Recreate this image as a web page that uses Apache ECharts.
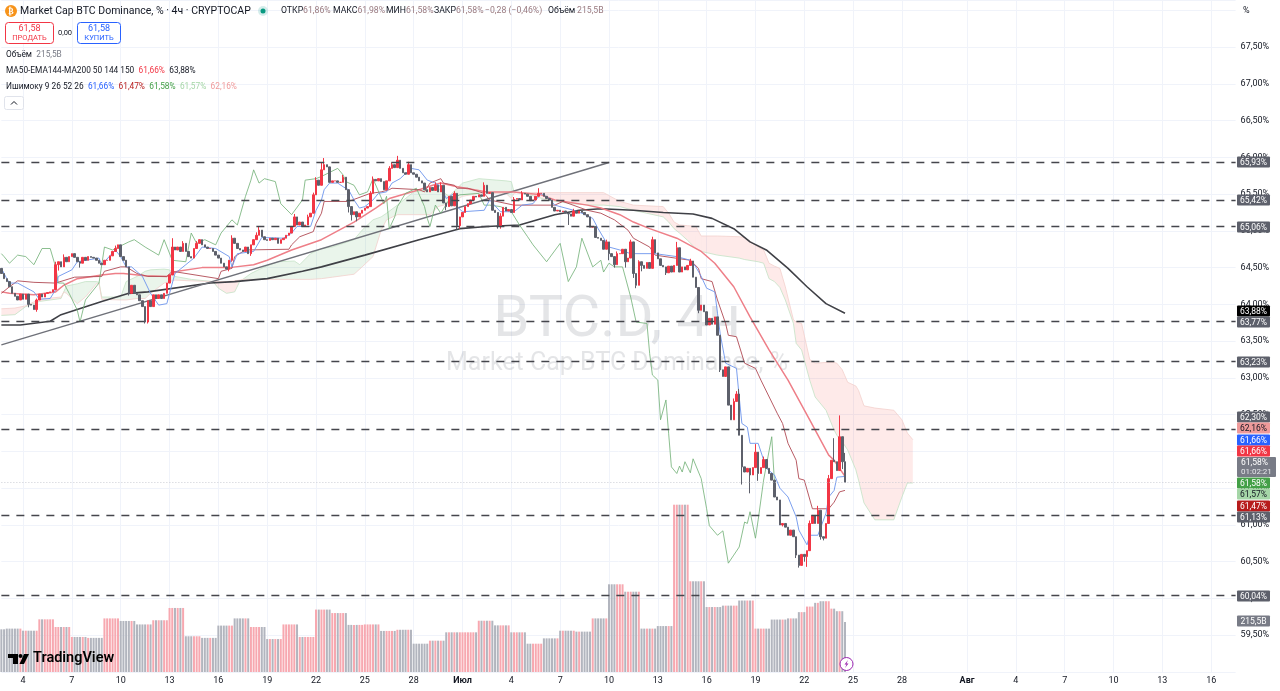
<!DOCTYPE html>
<html>
<head>
<meta charset="utf-8">
<script src="https://cdn.jsdelivr.net/npm/echarts@6/dist/echarts.min.js"></script>
<style>html,body{margin:0;padding:0;background:#fff}#c{width:1280px;height:691px}</style>
</head>
<body>
<div id="c"></div>
<script>
// ---------- DATA ----------
const closes = [64.42,64.35,64.31,64.24,64.15,64.11,64.06,64.14,64.07,64.14,64.00,63.99,63.93,64.06,64.14,64.10,64.15,64.16,64.17,64.20,
64.54,64.58,64.51,64.64,64.58,64.65,64.69,64.64,64.58,64.56,64.64,64.60,64.65,64.64,64.63,64.60,64.56,64.54,64.60,64.60,
64.66,64.72,64.76,64.81,64.65,64.60,64.51,64.15,64.26,64.15,64.13,64.05,63.97,63.76,64.05,63.97,64.13,64.08,64.13,64.08,
64.15,64.29,64.40,64.78,64.74,64.78,64.72,64.83,64.72,64.65,64.63,64.76,64.83,64.88,64.81,64.78,64.76,64.76,64.72,64.67,
64.63,64.56,64.51,64.48,64.60,64.90,64.83,64.76,64.74,64.72,64.78,64.69,64.81,64.88,64.94,65.01,64.92,64.88,64.87,64.90,
64.88,64.90,64.83,64.88,64.90,64.94,64.97,65.06,65.19,65.08,65.12,65.06,65.08,65.19,65.24,65.49,65.69,65.62,65.83,65.90,
65.87,65.66,65.68,65.68,65.66,65.66,65.73,65.56,65.33,65.22,65.26,65.19,65.24,65.28,65.31,65.33,65.51,65.70,65.68,65.71,
65.67,65.56,65.68,65.85,65.90,65.86,65.96,65.85,65.79,65.77,65.90,65.79,65.77,65.73,65.68,65.65,65.56,65.53,65.59,65.55,
65.62,65.53,65.62,65.38,65.33,65.47,65.34,65.51,65.07,65.19,65.25,65.33,65.37,65.42,65.47,65.46,65.49,65.47,65.62,65.51,
65.52,65.28,65.25,65.06,65.20,65.32,65.27,65.29,65.25,65.43,65.44,65.42,65.51,65.50,65.47,65.41,65.42,65.47,65.51,65.51,
65.47,65.44,65.42,65.32,65.27,65.28,65.26,65.27,65.24,65.23,65.20,65.27,65.24,65.27,65.25,65.22,65.19,65.05,65.06,64.91,
64.90,64.87,64.75,64.85,64.69,64.65,64.54,64.69,64.69,64.75,64.58,64.63,64.85,64.42,64.26,64.58,64.53,64.49,64.57,64.49,
64.88,64.70,64.62,64.53,64.51,64.43,64.52,64.44,64.53,64.77,64.44,64.51,64.47,64.53,64.59,64.37,64.23,63.92,63.99,63.90,
63.72,63.81,63.73,63.83,63.58,63.11,63.02,63.15,62.63,62.43,62.68,62.78,62.22,61.79,61.72,61.77,61.68,61.78,61.99,61.70,
61.78,61.89,61.77,61.70,61.61,61.38,61.34,61.00,61.02,60.97,60.86,60.93,60.84,60.59,60.45,60.60,60.57,60.65,61.02,61.13,
61.02,61.20,60.84,60.82,61.02,61.63,61.88,61.86,61.74,62.20,61.86,61.58];
const firstOpen = 64.49;
const wickHighs = {13:64.08,20:64.58,23:64.68,42:64.80,63:64.90,67:64.86,72:64.86,85:64.94,94:64.98,95:65.06,108:65.23,113:65.22,115:65.52,116:65.73,118:65.93,119:65.99,126:65.76,136:65.54,137:65.74,143:65.88,144:65.93,146:66.02,150:65.94,160:65.66,162:65.66,167:65.54,178:65.66,184:65.24,189:65.46,192:65.54,198:65.58,211:65.30,223:64.88,227:64.72,232:64.88,235:64.60,240:64.92,249:64.85,254:64.62,270:62.72,271:62.82,272:62.85,278:62.10,281:61.93,298:61.06,301:61.26,305:61.68,307:62.18,309:62.49,311:61.98};
const wickLows = {10:63.96,13:63.90,21:64.46,29:64.50,47:64.12,53:63.74,54:63.74,84:64.45,85:64.58,92:64.66,107:64.98,128:65.25,129:65.14,131:65.13,164:65.28,168:65.02,169:65.03,183:65.03,184:65.03,209:65.08,224:64.60,226:64.50,230:64.50,233:64.36,234:64.22,236:64.45,245:64.40,257:63.88,265:63.08,273:61.55,276:61.43,279:61.60,288:60.98,293:60.55,294:60.42,296:60.50,297:60.43,302:60.80,303:60.79,310:61.76};
const dailyVolume = [184,187,178,227,194,151,147,231,220,205,223,276,154,147,200,231,194,142,205,151,269,254,203,205,177,182,122,135,171,171,221,201,171,122,145,178,174,231,378,346,187,198,721,391,280,286,308,187,226];
const recentVolume = [231,231,231,231,258,258,258,282,282,282,298,298,305,305,305,305,273,273,262,262,262,215.5];

const conversionLine = [[0,64.49],[2,64.35],[3,64.29],[6,64.29],[12,64.17],[14,64.07],[18,64.08],[20,64.20],[21,64.38],[26,64.47],[28,64.58],[36,64.63],[37,64.54],[42,64.74],[44,64.65],[46,64.51],[48,64.51],[52,64.38],[55,64.15],[58,63.99],[61,64.01],[62,64.15],[64,64.42],[68,64.54],[71,64.63],[74,64.78],[79,64.76],[84,64.65],[85,64.51],[87,64.69],[93,64.72],[96,64.91],[104,64.90],[107,64.97],[109,65.06],[114,65.06],[116,65.28],[118,65.42],[119,65.56],[121,65.65],[124,65.65],[126,65.60],[128,65.56],[130,65.42],[132,65.31],[134,65.33],[137,65.42],[139,65.51],[142,65.53],[144,65.65],[147,65.71],[151,65.85],[154,65.83],[157,65.69],[160,65.65],[162,65.60],[164,65.44],[167,65.51],[168,65.33],[170,65.26],[178,65.28],[180,65.42],[184,65.26],[189,65.26],[192,65.35],[196,65.37],[199,65.51],[202,65.44],[204,65.35],[211,65.28],[214,65.24],[218,65.17],[220,65.03],[224,64.78],[228,64.74],[232,64.69],[241,64.69],[249,64.65],[254,64.60],[256,64.51],[258,64.38],[260,64.22],[263,64.17],[264,63.88],[265,63.60],[267,63.20],[271,63.13],[272,62.74],[273,62.38],[275,62.33],[276,62.11],[279,62.11],[282,61.77],[285,61.68],[287,61.50],[290,61.38],[293,61.11],[294,60.93],[297,60.73],[298,60.86],[301,60.86],[304,61.16],[305,61.38],[307,61.47],[308,61.65],[311,61.66]];
const baseLine = [[0,64.15],[3,64.24],[6,64.32],[12,64.30],[20,64.29],[27,64.37],[37,64.38],[38,64.45],[44,64.51],[46,64.51],[50,64.42],[54,64.38],[61,64.38],[63,64.45],[80,64.35],[81,64.45],[85,64.49],[86,64.65],[90,64.74],[106,64.75],[107,64.81],[110,64.92],[115,64.99],[116,65.10],[118,65.24],[119,65.40],[128,65.40],[136,65.51],[140,65.53],[143,65.56],[144,65.58],[154,65.56],[156,65.53],[158,65.65],[162,65.71],[163,65.65],[167,65.62],[168,65.58],[172,65.58],[178,65.51],[180,65.42],[189,65.35],[204,65.35],[207,65.40],[216,65.28],[221,65.24],[226,65.15],[231,65.01],[233,64.90],[239,64.78],[241,64.67],[254,64.60],[257,64.49],[258,64.35],[262,64.31],[264,64.06],[267,63.74],[268,63.58],[271,63.56],[274,63.20],[278,63.13],[280,62.97],[286,62.52],[288,62.38],[290,62.11],[293,61.88],[294,61.63],[296,61.61],[299,61.22],[305,61.22],[307,61.31],[309,61.45],[311,61.47]];
const ma50 = [[0,64.17],[3,64.15],[12,64.13],[20,64.17],[23,64.26],[28,64.35],[37,64.40],[42,64.42],[45,64.42],[53,64.39],[61,64.38],[65,64.45],[74,64.50],[84,64.50],[93,64.54],[98,64.60],[107,64.74],[118,64.88],[130,65.12],[138,65.31],[143,65.44],[154,65.56],[159,65.62],[162,65.65],[168,65.60],[179,65.53],[189,65.53],[199,65.49],[204,65.42],[216,65.35],[221,65.31],[228,65.22],[233,65.12],[239,65.03],[249,64.90],[258,64.72],[263,64.56],[270,64.24],[276,63.83],[283,63.38],[290,62.97],[298,62.43],[305,61.95],[307,61.88],[311,61.66]];
const ma200 = [[0,63.72],[7,63.72],[18,63.77],[22,63.86],[37,64.04],[47,64.15],[54,64.17],[77,64.29],[86,64.31],[98,64.35],[111,64.45],[118,64.51],[134,64.67],[154,64.88],[169,65.03],[179,65.06],[191,65.08],[204,65.22],[213,65.28],[221,65.30],[233,65.28],[244,65.25],[255,65.23],[262,65.17],[270,65.03],[276,64.85],[282,64.74],[290,64.49],[297,64.24],[304,64.01],[311,63.88]];
const laggingSpan = [[0,64.69],[1,64.65],[3,64.56],[6,64.67],[9,64.65],[12,64.54],[15,64.76],[18,64.76],[20,64.51],[21,64.29],[23,64.29],[25,64.15],[28,63.92],[29,63.76],[31,64.06],[36,64.29],[38,64.78],[41,64.74],[42,64.76],[47,64.85],[49,64.88],[53,64.78],[58,64.67],[60,64.88],[63,64.60],[68,64.58],[70,64.97],[72,64.83],[75,64.88],[79,64.81],[81,64.97],[85,65.15],[87,65.08],[90,65.47],[92,65.69],[93,65.83],[95,65.65],[97,65.71],[101,65.67],[103,65.37],[107,65.22],[111,65.42],[112,65.69],[116,65.71],[118,65.74],[124,65.85],[126,65.76],[127,65.67],[130,65.62],[132,65.49],[135,65.53],[137,65.71],[141,65.37],[142,65.47],[143,65.03],[145,65.19],[146,65.33],[149,65.51],[153,65.58],[156,65.33],[157,65.17],[158,65.06],[160,65.35],[162,65.24],[165,65.42],[169,65.49],[176,65.51],[178,65.35],[180,65.35],[184,65.33],[188,65.26],[191,65.08],[194,64.92],[196,64.81],[201,64.58],[206,64.83],[209,64.31],[212,64.51],[214,64.90],[218,64.51],[221,64.60],[222,64.44],[224,64.56],[226,64.51],[229,64.51],[232,64.10],[234,63.76],[238,63.74],[239,63.33],[240,63.04],[242,62.97],[243,62.43],[245,62.70],[246,62.24],[247,61.79],[249,61.70],[250,61.80],[251,61.72],[252,61.86],[254,61.71],[255,61.90],[258,61.63],[260,61.22],[261,60.99],[264,60.86],[266,60.92],[268,60.48],[270,60.59],[272,60.70],[274,61.04],[275,61.02],[276,61.18],[278,60.82],[279,61.07],[281,61.61],[284,62.20],[285,61.58]];
// [candle index, leading span A, leading span B]
const cloudRows = [[0,63.85,63.94],[5,63.86,63.95],[9,63.97,63.98],[14,64.04,64.07],[22,64.08,64.10],[23,64.17,64.17],[24,64.25,64.15],[28,64.28,64.01],[31,64.31,64.10],[35,64.31,64.28],[36,64.30,64.29],[37,64.10,64.07],[44,64.10,64.06],[46,64.31,64.06],[50,64.38,64.08],[53,64.45,64.08],[55,64.47,64.15],[60,64.48,64.29],[62,64.47,64.31],[64,64.38,64.33],[70,64.34,64.32],[78,64.31,64.31],[80,64.22,64.31],[83,64.15,64.31],[86,64.17,64.32],[88,64.32,64.33],[89,64.34,64.34],[92,64.42,64.34],[97,64.51,64.34],[102,64.58,64.34],[108,64.59,64.34],[110,64.54,64.34],[114,64.69,64.34],[118,64.76,64.35],[122,64.78,64.37],[130,64.88,64.41],[133,65.01,64.51],[137,65.15,64.65],[140,65.19,65.01],[142,65.24,65.15],[146,65.35,65.22],[152,65.53,65.22],[158,65.56,65.22],[161,65.58,65.33],[165,65.47,65.37],[170,65.65,65.47],[176,65.71,65.51],[186,65.68,65.51],[188,65.67,65.44],[189,65.53,65.51],[190,65.52,65.52],[195,65.49,65.52],[201,65.42,65.52],[210,65.37,65.52],[218,65.35,65.52],[222,65.35,65.52],[228,65.33,65.40],[233,65.28,65.35],[244,65.19,65.33],[246,65.12,65.24],[248,65.03,65.12],[250,64.97,65.08],[253,64.87,65.07],[256,64.76,65.06],[258,64.72,64.93],[264,64.67,64.93],[272,64.63,64.92],[274,64.61,64.91],[279,64.58,64.78],[281,64.56,64.74],[283,64.35,64.56],[285,64.31,64.52],[287,64.23,64.49],[289,64.06,64.24],[292,63.74,63.79],[293,63.47,63.76],[295,63.38,63.74],[298,62.97,63.25],[300,62.74,63.20],[304,62.56,63.21],[307,62.29,63.21],[308,62.22,63.20],[310,62.13,63.11],[312,62.02,62.94],[315,61.75,62.89],[316,61.61,62.83],[318,61.30,62.62],[322,61.07,62.59],[329,61.07,62.56],[332,61.38,62.43],[334,61.57,62.25],[336,61.57,62.16]];
const trendLine = [[0,63.45],[224,65.93]];
const levels = [65.93,65.42,65.06,63.77,63.23,62.30,61.13,60.04];
const lastPrice = 61.58;
const tickLabels = {'06-04':'4','06-07':'7','06-10':'10','06-13':'13','06-16':'16','06-19':'19','06-22':'22','06-25':'25','06-28':'28','07-01':'Июл','07-04':'4','07-07':'7','07-10':'10','07-13':'13','07-16':'16','07-19':'19','07-22':'22','07-25':'25','07-28':'28','08-01':'Авг','08-04':'4','08-07':'7','08-10':'10','08-13':'13','08-16':'16'};
const priceTags = [
 ['65,93%','#5d606b','#fff',162],['65,42%','#5d606b','#fff',200],['65,06%','#5d606b','#fff',227],
 ['63,88%','#000','#fff',311],['63,77%','#5d606b','#fff',322],['63,23%','#5d606b','#fff',362],
 ['62,30%','#5d606b','#fff',417],['62,16%','#ef9a9a','#131722',428],['61,66%','#2962ff','#fff',440],
 ['61,66%','#f23645','#fff',451],['61,58%','#43a047','#fff',483],['61,57%','#a5d6a7','#131722',494],
 ['61,47%','#b71c1c','#fff',506],['61,13%','#5d606b','#fff',517],['60,04%','#5d606b','#fff',596],['215,5B','#787b86','#fff',621]
];

// ---------- TABLES ----------
const FONT = 'Roboto, "Noto Sans", sans-serif';
const N = 456;
const categories = [], startMs = Date.UTC(2025,5,2,16);
for (let i=0;i<N;i++){ const d=new Date(startMs+i*4*3600e3);
  const p=n=>String(n).padStart(2,'0');
  categories.push(p(d.getUTCMonth()+1)+'-'+p(d.getUTCDate())+(d.getUTCHours()?'T'+p(d.getUTCHours()):'')); }
const opens = closes.map((c,i)=> i? closes[i-1] : firstOpen);
const candles = closes.map((c,i)=>{ const o=opens[i];
  const hi = wickHighs[i]!==undefined? wickHighs[i] : Math.max(o,c);
  const lo = wickLows[i]!==undefined? wickLows[i] : Math.min(o,c);
  return [o,c,Math.min(lo,o,c),Math.max(hi,o,c)]; });
const volume = [];
for (let i=0;i<closes.length;i++){
  if (i>=290) volume.push(recentVolume[i-290]);
  else volume.push(i<2? dailyVolume[0] : dailyVolume[1+Math.floor((i-2)/6)]);
}
const spanA = cloudRows.map(r=>[r[0],r[1]]), spanB = cloudRows.map(r=>[r[0],r[2]]);

function lineSeries(name,data,color,width,z){
  return {name,type:'line',data,showSymbol:false,symbol:'none',silent:true,z:z||4,animation:false,
    lineStyle:{color,width},itemStyle:{color}};
}

// ---------- GRAPHIC ----------
const g = [];
const T=(x,y,text,o)=>g.push(Object.assign({type:'text',z:50,silent:true,
  style:Object.assign({x,y,text,font:'8.7px '+FONT,fill:'#131722',textVerticalAlign:'middle'},o||{})}));
// watermark
g.push({type:'text',z:1,silent:true,style:{x:617,y:321,text:'BTC.D, 4ч',textAlign:'center',textVerticalAlign:'middle',font:'58px '+FONT,fill:'rgba(120,123,134,0.2)'}});
g.push({type:'text',z:1,silent:true,style:{x:617,y:364,text:'Market Cap BTC Dominance, %',textAlign:'center',textVerticalAlign:'middle',font:'25px '+FONT,fill:'rgba(120,123,134,0.2)'}});
// header
g.push({type:'circle',z:50,silent:true,shape:{cx:11,cy:11,r:6},style:{fill:'#f7931a'}});
T(11,11.5,'₿',{textAlign:'center',font:'bold 8px "DejaVu Sans"',fill:'#fff'});
T(20,11,'Market Cap BTC Dominance, % · 4ч · CRYPTOCAP',{font:'10.5px '+FONT});
g.push({type:'circle',z:50,silent:true,shape:{cx:263,cy:11,r:5},style:{fill:'rgba(38,166,154,0.2)'}});
g.push({type:'circle',z:50,silent:true,shape:{cx:263,cy:11,r:2.5},style:{fill:'#089981'}});
[[281,'ОТКР','61,86%'],[333,'МАКС','61,98%'],[386,'МИН','61,58%'],[434,'ЗАКР','61,58%']].forEach(a=>{
  T(a[0],11,'{l|'+a[1]+'}{v|'+a[2]+'}',{rich:{l:{font:'8.7px '+FONT,fill:'#131722'},v:{font:'8.7px '+FONT,fill:'#9a7b80'}}});
});
T(485,11,'−0,28 (−0,46%)',{fill:'#9a7b80'});
T(548,11,'Объём',{});
T(577,11,'215,5B',{fill:'#9a7b80'});
// buttons
g.push({type:'rect',z:50,silent:true,shape:{x:5.5,y:22.5,width:48,height:21,r:3},style:{fill:'#fff',stroke:'#f23645',lineWidth:1}});
T(29.5,29,'61,58',{textAlign:'center',fill:'#f23645',font:'9px '+FONT});
T(29.5,38,'ПРОДАТЬ',{textAlign:'center',fill:'#f23645',font:'7.5px '+FONT});
T(65,33,'0,00',{textAlign:'center',font:'7.5px '+FONT});
g.push({type:'rect',z:50,silent:true,shape:{x:77.5,y:22.5,width:43,height:21,r:3},style:{fill:'#fff',stroke:'#2962ff',lineWidth:1}});
T(99,29,'61,58',{textAlign:'center',fill:'#2962ff',font:'9px '+FONT});
T(99,38,'КУПИТЬ',{textAlign:'center',fill:'#2962ff',font:'7.5px '+FONT});
// legend rows
const LF='8.3px '+FONT;
T(6,55,'{a|Объём}  {b|215,5B}',{rich:{a:{font:LF,fill:'#131722'},b:{font:LF,fill:'#787b86'}}});
T(6,71,'{a|MA50-EMA144-MA200 50 144 150}  {r|61,66%}  {a|63,88%}',{rich:{a:{font:LF,fill:'#131722'},r:{font:LF,fill:'#f23645'}}});
T(6,87,'{a|Ишимоку 9 26 52 26}  {b|61,66%}  {r|61,47%}  {g|61,58%}  {lg|61,57%}  {lr|62,16%}',{rich:{a:{font:LF,fill:'#131722'},b:{font:LF,fill:'#2962ff'},r:{font:LF,fill:'#b71c1c'},g:{font:LF,fill:'#43a047'},lg:{font:LF,fill:'#a5d6a7'},lr:{font:LF,fill:'#ef9a9a'}}});
g.push({type:'rect',z:50,silent:true,shape:{x:4.5,y:96.5,width:19,height:13,r:2},style:{fill:'#fff',stroke:'#e0e3eb',lineWidth:1}});
g.push({type:'polyline',z:51,silent:true,shape:{points:[[11,104.5],[14,101.5],[17,104.5]]},style:{fill:'none',stroke:'#131722',lineWidth:1}});
// "%" marker
T(1243,11,'%',{font:'9px '+FONT});
// price tags
priceTags.forEach(t=>{
  g.push({type:'rect',z:60,silent:true,shape:{x:1237,y:t[3]-5.5,width:33,height:11,r:1},style:{fill:t[1]}});
  T(1253.5,t[3]+0.5,t[0],{textAlign:'center',fill:t[2],font:'8.5px '+FONT});
  g[g.length-1].z=61;
});
g.push({type:'rect',z:60,silent:true,shape:{x:1237,y:457,width:39,height:20,r:1},style:{fill:'#787b86'}});
T(1241,462.5,'61,58%',{fill:'#fff',font:'8.5px '+FONT}); g[g.length-1].z=61;
T(1241,472,'01:02:21',{fill:'#e6e7eb',font:'8px '+FONT}); g[g.length-1].z=61;
// TradingView logo
g.push({type:'polygon',z:50,silent:true,shape:{points:[[8,654],[18,654],[18,664],[13,664],[13,658],[8,658]]},style:{fill:'#000'}});
g.push({type:'circle',z:50,silent:true,shape:{cx:20.5,cy:656,r:2},style:{fill:'#000'}});
g.push({type:'polygon',z:50,silent:true,shape:{points:[[24,654],[29,654],[24,664],[19.5,664]]},style:{fill:'#000'}});
T(33,658.5,'TradingView',{font:'600 14.5px '+FONT,fill:'#000'});
// lightning badge
g.push({type:'circle',z:50,silent:true,shape:{cx:846.5,cy:664,r:6.5},style:{fill:'#fff',stroke:'#9c27b0',lineWidth:1}});
g.push({type:'polygon',z:51,silent:true,shape:{points:[[848,660],[844.5,664.5],[846.5,664.5],[845,668],[848.5,663.5],[846.5,663.5]]},style:{fill:'#9c27b0'}});

// ---------- CHART ----------
const chart = echarts.init(document.getElementById('c'),null,{renderer:'canvas'});
chart.setOption({
  animation:false, backgroundColor:'#fff', textStyle:{fontFamily:FONT},
  graphic:{elements:g},
  grid:{left:1.36,right:44.4,top:0,bottom:19,containLabel:false},
  xAxis:{type:'category',data:categories,boundaryGap:false,
    axisLine:{show:false},axisTick:{show:false},
    axisLabel:{interval:(i,v)=>v in tickLabels,formatter:v=>{const t=tickLabels[v]||'';return /[а-я]/i.test(t)?'{b|'+t+'}':t;},
      color:'#131722',fontSize:9,margin:4,hideOverlap:false,rich:{b:{fontWeight:'bold',fontSize:9,color:'#131722'}}},
    splitLine:{show:true,interval:(i,v)=>v in tickLabels,lineStyle:{color:'#f0f3fa',width:1}}},
  yAxis:[
    {type:'value',position:'right',min:59,max:68.14,interval:0.5,scale:true,
      axisLine:{show:false},axisTick:{show:false},
      axisLabel:{color:'#131722',fontSize:9,margin:5,padding:[2,0,0,0],showMinLabel:false,showMaxLabel:false,
        formatter:v=>(v>=59.5&&v<=67.5)?v.toFixed(2).replace('.',',')+'%':''},
      splitLine:{show:true,lineStyle:{color:'#f0f3fa',width:1}}},
    {type:'value',show:false,min:0,max:2896,splitLine:{show:false}}
  ],
  series:[
    {name:'Объём',type:'bar',yAxisIndex:1,data:volume,barWidth:2,z:1,silent:true,
      itemStyle:{color:p=>closes[p.dataIndex]>=opens[p.dataIndex]?'#f7a8b0':'#b2b5be'}},
    {name:'Cloud',type:'custom',data:cloudRows,z:2,silent:true,clip:true,encode:{x:0,y:[1,2]},
      renderItem:(params,api)=>{
        const n=params.dataIndex; if(n>=cloudRows.length-1) return;
        const r=cloudRows[n], s=cloudRows[n+1];
        const pts=[api.coord([r[0],r[1]]),api.coord([s[0],s[1]]),api.coord([s[0],s[2]]),api.coord([r[0],r[2]])];
        const green=(r[1]+s[1])>=(r[2]+s[2]);
        return {type:'polygon',shape:{points:pts},style:{fill:green?'rgba(67,160,71,0.11)':'rgba(244,67,54,0.11)',stroke:null}};
      }},
    lineSeries('Span A',spanA,'#c4e2c5',0.8,3),
    lineSeries('Span B',spanB,'#f3d0cd',0.8,3),
    lineSeries('MA200',ma200,'#3f4046',1.6,3),
    lineSeries('Trend',trendLine,'#6f7179',1.4,3),
    lineSeries('MA50',ma50,'#ee7f88',1.5,3),
    lineSeries('Base',baseLine,'#b04a54',0.9,4),
    lineSeries('Lagging',laggingSpan,'#6fae74',0.8,4),
    lineSeries('Conversion',conversionLine,'#6c94ec',0.9,4),
    {name:'BTC.D',type:'candlestick',data:candles,barWidth:2,z:5,silent:true,
      itemStyle:{color:'#f23645',color0:'#5d606b',borderColor:'#f23645',borderColor0:'#5d606b',borderWidth:1},
      markLine:{silent:true,symbol:'none',animation:false,z:6,label:{show:false},
        data:[...levels.map(v=>({yAxis:v,lineStyle:{color:'#45464c',type:[8,7],width:1.3}})),
          {yAxis:lastPrice,lineStyle:{color:'#c5c7cf',type:[1,2],width:0.9}}]}}
  ]
});
</script>
</body>
</html>
